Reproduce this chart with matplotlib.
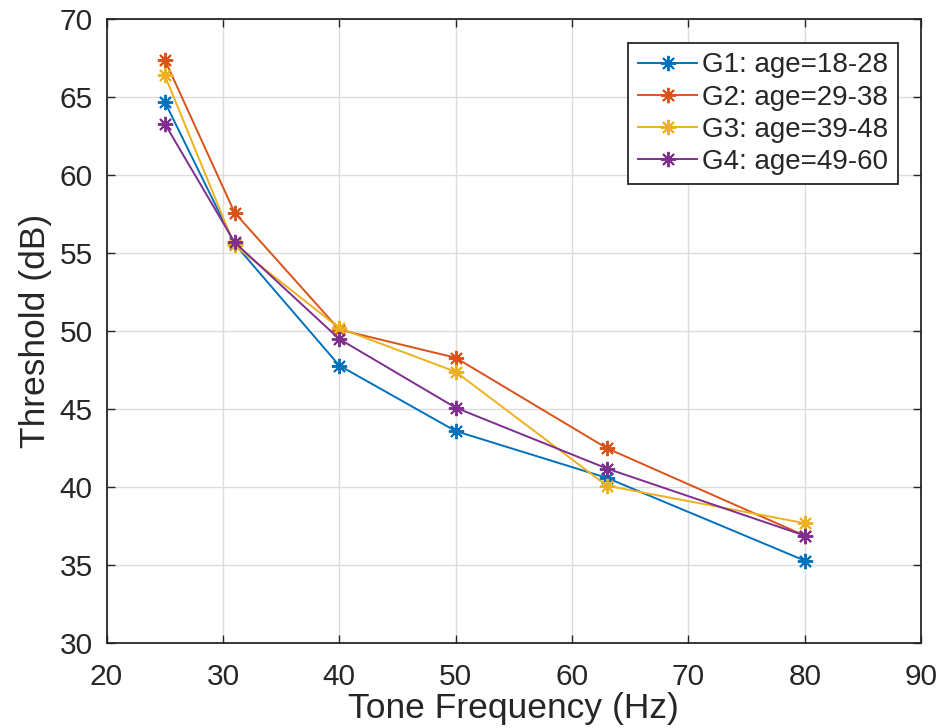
import matplotlib
matplotlib.use("Agg")
import matplotlib.pyplot as plt

plt.rcParams['font.family'] = ['Liberation Sans', 'DejaVu Sans']

# tone frequencies (Hz) and mean thresholds (dB) per age group
freq = [25, 31, 40, 50, 63, 80]
g1 = [64.7, 55.6, 47.8, 43.6, 40.6, 35.3]
g2 = [67.4, 57.6, 50.1, 48.3, 42.5, 36.9]
g3 = [66.4, 55.5, 50.2, 47.4, 40.1, 37.7]
g4 = [63.3, 55.7, 49.5, 45.1, 41.2, 36.9]
labels = ['G1: age=18-28', 'G2: age=29-38', 'G3: age=39-48', 'G4: age=49-60']
colors = ['#0072BD', '#D95319', '#EDB120', '#7E2F8E']

fig = plt.figure(figsize=(9.43, 7.28), dpi=100)
ax = fig.add_axes([0.1130, 0.1163, 0.8638, 0.8575])

for y, lab, c in zip([g1, g2, g3, g4], labels, colors):
    ax.plot(freq, y, color=c, lw=1.4, marker=(8, 2, 0), ms=11, mew=1.4, label=lab)

ax.set_xlim(20, 90)
ax.set_ylim(30, 70)
ax.set_xticks(range(20, 91, 10))
ax.set_yticks(range(30, 71, 5))
ax.grid(True, color='#dcdcdc', lw=1.0)
ax.set_axisbelow(True)

for s in ax.spines.values():
    s.set_color('#262626')
    s.set_linewidth(1.3)
ax.tick_params(direction='in', length=6, width=1.0, colors='#262626',
               top=True, right=True, labelsize=21.5)
ax.tick_params(axis='x', pad=14)
ax.tick_params(axis='y', pad=10)

ax.set_xlabel('Tone Frequency (Hz)', fontsize=25.5, color='#262626', labelpad=1)
ax.set_ylabel('Threshold (dB)', fontsize=25.5, color='#262626', labelpad=5)

leg = ax.legend(loc='upper right', fontsize=20, fancybox=False, framealpha=1,
                edgecolor='#262626', handlelength=2.15, handletextpad=0.15,
                borderpad=0.35, labelspacing=0.22, borderaxespad=0.85)
leg.get_frame().set_linewidth(1.3)
for t in leg.get_texts():
    t.set_color('#262626')

fig.savefig('out.png', dpi=100)
